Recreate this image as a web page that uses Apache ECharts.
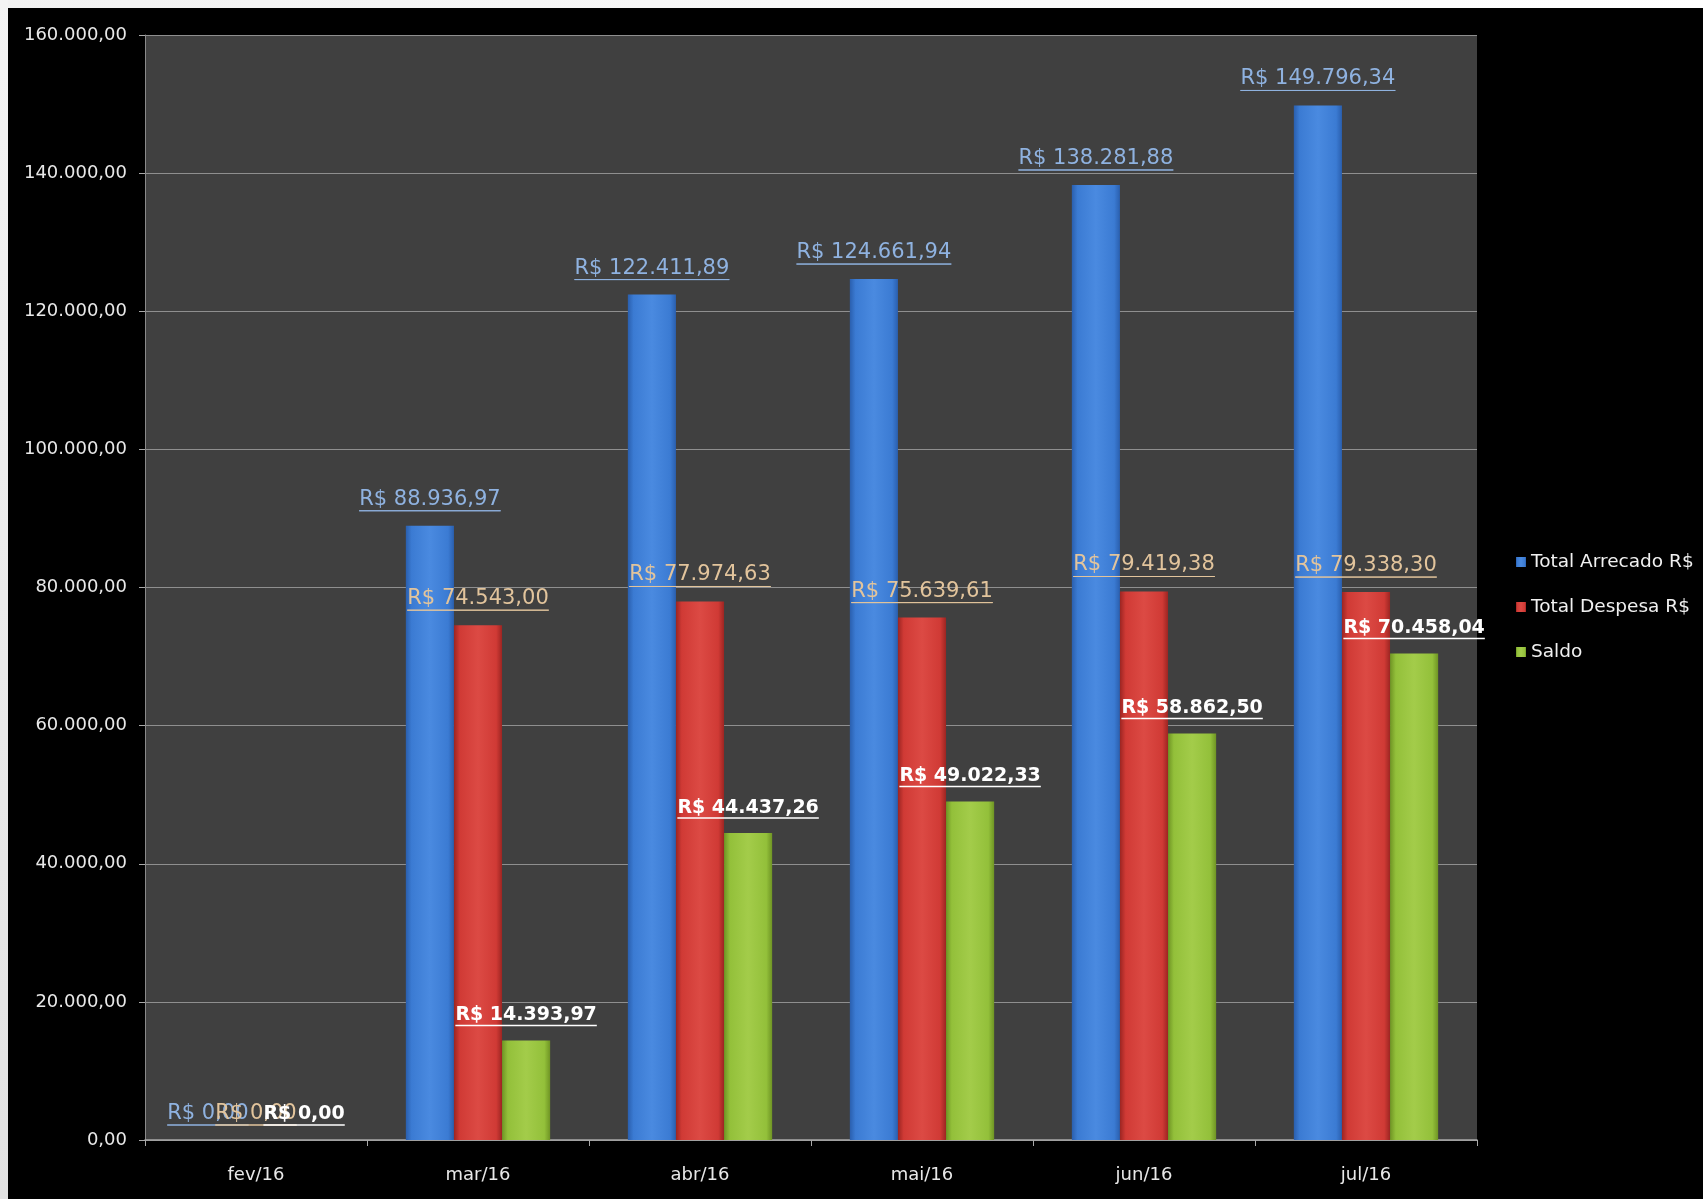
<!DOCTYPE html>
<html>
<head>
<meta charset="utf-8">
<style>
  html, body { margin: 0; padding: 0; background: #000; }
  body { width: 1703px; height: 1199px; overflow: hidden; position: relative; }
  #frameTop { position: absolute; left: 0; top: 0; width: 1703px; height: 8px; background: linear-gradient(to right, #f2f2f2, #ffffff); }
  #frameLeft { position: absolute; left: 0; top: 0; width: 8px; height: 1199px; background: linear-gradient(to bottom, #f4f4f4, #e2e2e2); }
  #chart { position: absolute; left: 8px; top: 8px; width: 1695px; height: 1191px; background: #000; }
</style>
<script src="https://cdn.jsdelivr.net/npm/echarts@6/dist/echarts.min.js"></script>
</head>
<body>
<div id="frameTop"></div>
<div id="frameLeft"></div>
<div id="chart"></div>
<script>
const categories = ['fev/16', 'mar/16', 'abr/16', 'mai/16', 'jun/16', 'jul/16'];
const seriesNames = ['Total Arrecado R$', 'Total Despesa R$', 'Saldo'];
const arrecadado = [0, 88936.97, 122411.89, 124661.94, 138281.88, 149796.34];
const despesa = [0, 74543.00, 77974.63, 75639.61, 79419.38, 79338.30];
const saldo = [0, 14393.97, 44437.26, 49022.33, 58862.50, 70458.04];
const yTicks = { min: 0, max: 160000, interval: 20000 };

function fmtBR(v) {
  const neg = v < 0;
  const parts = Math.abs(v).toFixed(2).split('.');
  const intPart = parts[0].replace(/\B(?=(\d{3})+(?!\d))/g, '.');
  return (neg ? '-' : '') + intPart + ',' + parts[1];
}

function grad(dark, mid, light) {
  return {
    type: 'linear', x: 0, y: 0, x2: 1, y2: 0,
    colorStops: [
      { offset: 0, color: dark },
      { offset: 0.12, color: mid },
      { offset: 0.5, color: light },
      { offset: 0.88, color: mid },
      { offset: 1, color: dark }
    ]
  };
}

function labelCfg(color, bold, size) {
  return {
    show: true,
    position: 'top',
    distance: 15,
    formatter: p => '{t|R$ ' + fmtBR(p.value) + '}\n{hr|}',
    rich: {
      t: {
        color: color,
        fontFamily: 'DejaVu Sans',
        fontSize: size,
        fontWeight: bold ? 'bold' : 'normal',
        lineHeight: size + 2,
        align: 'center'
      },
      hr: {
        borderColor: color,
        borderWidth: bold ? 1.5 : 1,
        width: '100%',
        height: 0,
        align: 'left'
      }
    }
  };
}

const chart = echarts.init(document.getElementById('chart'));
chart.setOption({
  backgroundColor: '#000',
  animation: false,
  grid: {
    left: 137, right: 226, top: 27, bottom: 59,
    show: true, backgroundColor: '#404040', borderWidth: 0
  },
  legend: {
    orient: 'vertical',
    left: 1503,
    top: 539,
    itemWidth: 10,
    itemHeight: 10,
    itemGap: 25,
    icon: 'rect',
    textStyle: { color: '#f0f0f0', fontFamily: 'DejaVu Sans', fontSize: 18.5, lineHeight: 20 },
    data: seriesNames
  },
  xAxis: {
    type: 'category',
    data: categories,
    axisLine: { lineStyle: { color: '#a8a8a8', width: 1.5 } },
    axisTick: { show: true, length: 6, lineStyle: { color: '#a8a8a8' } },
    axisLabel: { color: '#e8e8e8', fontFamily: 'DejaVu Sans', fontSize: 18, margin: 26 }
  },
  yAxis: {
    type: 'value',
    min: yTicks.min, max: yTicks.max, interval: yTicks.interval,
    axisLine: { show: true, lineStyle: { color: '#8a8a8a', width: 1 } },
    axisTick: { show: true, length: 6, lineStyle: { color: '#a8a8a8' } },
    splitLine: { lineStyle: { color: '#8f8f8f', width: 1 } },
    axisLabel: { color: '#e8e8e8', fontFamily: 'DejaVu Sans', fontSize: 18, margin: 18, formatter: v => fmtBR(v) }
  },
  series: [
    {
      name: seriesNames[0], type: 'bar', data: arrecadado,
      barGap: '0%', barCategoryGap: '35%',
      itemStyle: { color: grad('#2a5fae', '#3b7bd3', '#4a8ae0') },
      label: labelCfg('#8fb2e0', false, 21)
    },
    {
      name: seriesNames[1], type: 'bar', data: despesa,
      itemStyle: { color: grad('#9c2522', '#d03a35', '#dc4a44') },
      label: labelCfg('#e2c49c', false, 21)
    },
    {
      name: seriesNames[2], type: 'bar', data: saldo,
      itemStyle: { color: grad('#6f9424', '#93c03a', '#a3cc4a') },
      label: labelCfg('#ffffff', true, 19)
    }
  ]
});
</script>
</body>
</html>
